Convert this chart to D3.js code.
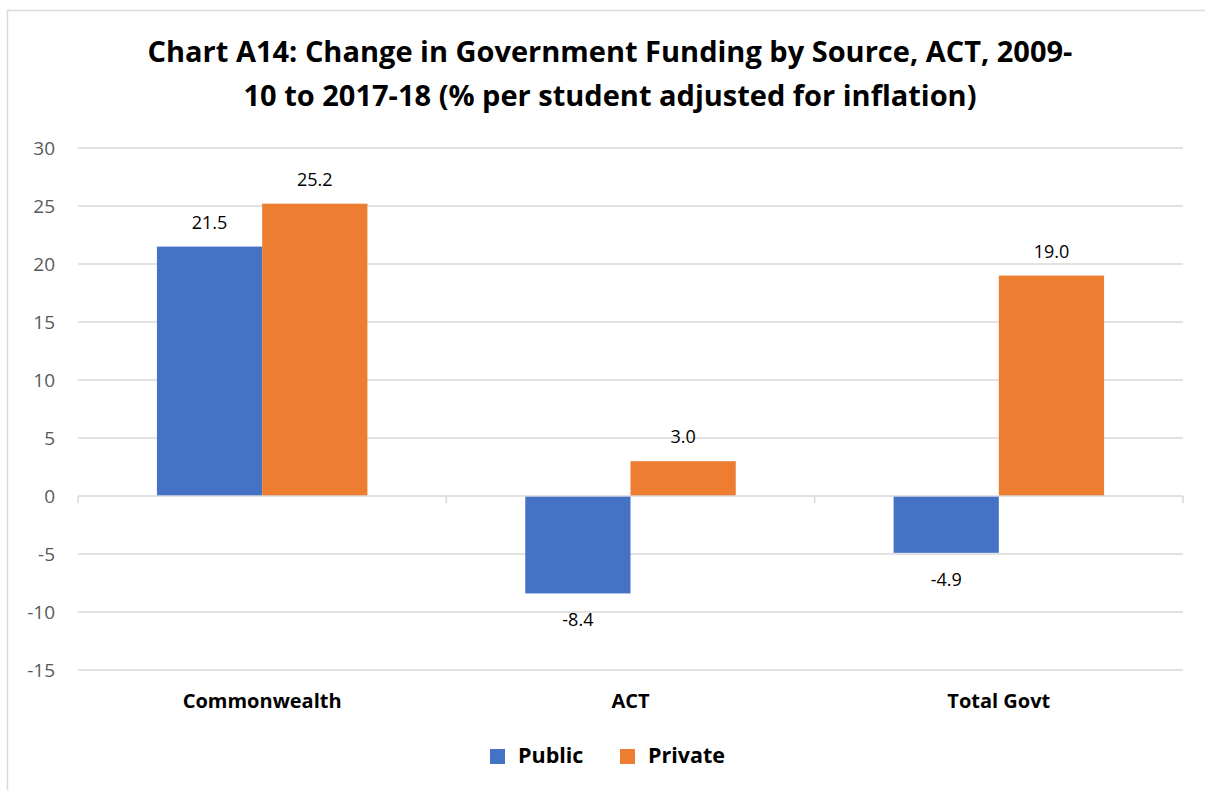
<!DOCTYPE html>
<html>
<head>
<meta charset="utf-8">
<script src="https://cdn.jsdelivr.net/npm/d3@7"></script>
<style>
  html, body { margin: 0; padding: 0; background: #fff; }
  svg { display: block; font-family: "Open Sans", "Noto Sans", sans-serif; }
</style>
</head>
<body>
<svg id="chart" width="1205" height="790"></svg>
<script>
// Chart data
const categories = ["Commonwealth", "ACT", "Total Govt"];
const seriesNames = ["Public", "Private"];
const publicValues = [21.5, -8.4, -4.9];
const privateValues = [25.2, 3.0, 19.0];
const yTicks = [-15, -10, -5, 0, 5, 10, 15, 20, 25, 30];
const titleLines = [
  "Chart A14: Change in Government Funding by Source, ACT, 2009-",
  "10 to 2017-18 (% per student adjusted for inflation)"
];
const colors = ["#4472C4", "#ED7D31"];

const svg = d3.select("#chart");
const W = 1205, H = 790;
const plot = { left: 78, right: 1183, top: 148, bottom: 670 };

// chart frame
svg.append("rect")
  .attr("x", 7.5).attr("y", 10.5)
  .attr("width", W + 10).attr("height", H + 10)
  .attr("fill", "#fff").attr("stroke", "#d9d9d9").attr("stroke-width", 1.5);

// title
svg.append("g").selectAll("text")
  .data(titleLines).join("text")
  .attr("x", 610).attr("y", (d, i) => 62 + i * 44)
  .attr("text-anchor", "middle")
  .attr("font-size", 29).attr("font-weight", "bold").attr("fill", "#000")
  .text(d => d);

const y = d3.scaleLinear().domain([-15, 30]).range([plot.bottom, plot.top]);
const x0 = d3.scaleBand().domain(categories).range([plot.left, plot.right]).paddingInner(0).paddingOuter(0);
const x1 = d3.scaleBand().domain(seriesNames).range([0, x0.bandwidth()]).paddingInner(0).paddingOuter(0.75);

// gridlines
svg.append("g").selectAll("line")
  .data(yTicks.filter(t => t !== 0)).join("line")
  .attr("x1", plot.left).attr("x2", plot.right)
  .attr("y1", d => y(d)).attr("y2", d => y(d))
  .attr("stroke", "#d9d9d9").attr("stroke-width", 1.5);

// y axis labels (plain hyphen for negatives)
const yAxis = d3.axisLeft(y).tickValues(yTicks).tickSize(0).tickPadding(0)
  .tickFormat(d => String(d));
const gy = svg.append("g").attr("transform", `translate(55,0)`).call(yAxis);
gy.select(".domain").remove();
gy.selectAll("text")
  .attr("font-family", "'Open Sans', 'Noto Sans', sans-serif")
  .attr("font-size", 19).attr("fill", "#595959");

// bars
const rows = categories.map((c, i) => ({ cat: c, values: [publicValues[i], privateValues[i]] }));
const groups = svg.append("g").selectAll("g")
  .data(rows).join("g")
  .attr("transform", d => `translate(${x0(d.cat)},0)`);

groups.selectAll("rect")
  .data(d => d.values.map((v, j) => ({ name: seriesNames[j], v, j })))
  .join("rect")
  .attr("x", d => x1(d.name))
  .attr("width", x1.bandwidth())
  .attr("y", d => y(Math.max(0, d.v)))
  .attr("height", d => Math.abs(y(d.v) - y(0)))
  .attr("fill", d => colors[d.j]);

// data labels
groups.selectAll("text")
  .data(d => d.values.map((v, j) => ({ name: seriesNames[j], v, j })))
  .join("text")
  .attr("x", d => x1(d.name) + x1.bandwidth() / 2)
  .attr("y", d => d.v >= 0 ? y(d.v) - 18 : y(d.v) + 33)
  .attr("text-anchor", "middle")
  .attr("font-size", 18).attr("fill", "#000")
  .text(d => d.v.toFixed(1));

// zero axis with category boundary ticks
svg.append("line")
  .attr("x1", plot.left).attr("x2", plot.right)
  .attr("y1", y(0)).attr("y2", y(0))
  .attr("stroke", "#d9d9d9").attr("stroke-width", 1.5);
const bounds = [plot.left, ...categories.map(c => x0(c) + x0.bandwidth())];
svg.append("g").selectAll("line")
  .data(bounds).join("line")
  .attr("x1", d => d).attr("x2", d => d)
  .attr("y1", y(0)).attr("y2", y(0) + 7)
  .attr("stroke", "#d9d9d9").attr("stroke-width", 1.5);

// category labels
svg.append("g").selectAll("text")
  .data(categories).join("text")
  .attr("x", d => x0(d) + x0.bandwidth() / 2)
  .attr("y", 708)
  .attr("text-anchor", "middle")
  .attr("font-size", 20).attr("font-weight", "bold").attr("fill", "#000")
  .text(d => d);

// legend
const legendItems = [{ name: "Public", x: 490 }, { name: "Private", x: 620 }];
const lg = svg.append("g").selectAll("g")
  .data(legendItems).join("g")
  .attr("transform", d => `translate(${d.x},749)`);
lg.append("rect").attr("width", 15).attr("height", 15)
  .attr("fill", (d, i) => colors[i]);
lg.append("text").attr("x", 28).attr("y", 14)
  .attr("font-size", 21.5).attr("font-weight", "bold").attr("fill", "#000")
  .text(d => d.name);
</script>
</body>
</html>
